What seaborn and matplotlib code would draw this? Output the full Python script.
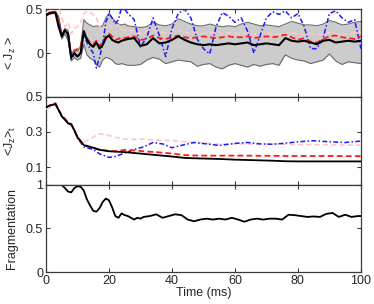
import numpy as np
import pandas as pd
import matplotlib
matplotlib.use("Agg")
import matplotlib.pyplot as plt
import seaborn as sns

# ---------------- data ----------------
t1 = list(range(0, 26)) + list(range(26, 101, 2))
jz_mean = [0.43, 0.45, 0.46, 0.46, 0.30, 0.19, 0.26, 0.22, -0.05, 0.00, -0.04, 0.00, 0.25,
           0.15, 0.10, 0.07, 0.12, 0.05, 0.09, 0.17, 0.20, 0.15, 0.13, 0.12, 0.14, 0.15,
           0.16, 0.17, 0.08, 0.10, 0.17, 0.11, 0.12, 0.15, 0.19, 0.15, 0.12, 0.10, 0.09,
           0.10, 0.09, 0.10, 0.11, 0.10, 0.11, 0.12, 0.09, 0.10, 0.11, 0.10, 0.09, 0.17,
           0.14, 0.13, 0.14, 0.12, 0.10, 0.14, 0.15, 0.12, 0.13, 0.14, 0.13, 0.14]
jz_upper = [0.44, 0.46, 0.47, 0.47, 0.42, 0.22, 0.28, 0.26, -0.02, 0.04, 0.02, 0.08, 0.38,
            0.34, 0.32, 0.30, 0.31, 0.30, 0.31, 0.40, 0.45, 0.40, 0.36, 0.33, 0.32, 0.33,
            0.31, 0.30, 0.29, 0.30, 0.35, 0.32, 0.31, 0.33, 0.39, 0.36, 0.33, 0.31, 0.31,
            0.33, 0.31, 0.30, 0.31, 0.30, 0.33, 0.35, 0.33, 0.31, 0.32, 0.31, 0.30, 0.33,
            0.36, 0.34, 0.32, 0.32, 0.31, 0.33, 0.37, 0.35, 0.32, 0.33, 0.35, 0.36]
jz_lower = [0.42, 0.44, 0.45, 0.45, 0.36, 0.16, 0.22, 0.14, -0.09, -0.05, -0.08, -0.06, 0.10,
            -0.02, -0.06, -0.08, -0.13, -0.16, -0.08, -0.05, -0.06, -0.08, -0.12, -0.13, -0.12, -0.13,
            -0.14, -0.14, -0.13, -0.08, -0.05, -0.07, -0.12, -0.10, -0.08, -0.09, -0.10, -0.15, -0.13,
            -0.12, -0.16, -0.18, -0.14, -0.12, -0.14, -0.16, -0.13, -0.15, -0.13, -0.12, -0.14, -0.02,
            -0.06, -0.08, -0.09, -0.12, -0.10, -0.08, -0.01, -0.09, -0.13, -0.10, -0.11, -0.12]
jz_red = [0.43, 0.46, 0.47, 0.47, 0.38, 0.20, 0.26, 0.22, -0.03, 0.02, 0.05, 0.08, 0.22,
          0.17, 0.12, 0.10, 0.14, 0.08, 0.12, 0.20, 0.22, 0.19, 0.15, 0.16, 0.18, 0.17,
          0.18, 0.19, 0.15, 0.16, 0.20, 0.17, 0.16, 0.18, 0.20, 0.18, 0.17, 0.18, 0.19,
          0.18, 0.17, 0.18, 0.19, 0.18, 0.18, 0.19, 0.17, 0.18, 0.19, 0.18, 0.19, 0.21,
          0.18, 0.15, 0.17, 0.13, 0.12, 0.16, 0.19, 0.20, 0.18, 0.17, 0.16, 0.19]
jz_pink = [0.46, 0.48, 0.50, 0.53, 0.52, 0.40, 0.30, 0.35, 0.22, 0.28, 0.30, 0.35, 0.45,
           0.47, 0.46, 0.44, 0.40, 0.30, 0.25, 0.30, 0.33, 0.28, 0.30, 0.32, 0.27, 0.26,
           0.27, 0.25, 0.22, 0.24, 0.26, 0.24, 0.23, 0.25, 0.26, 0.24, 0.22, 0.23, 0.22,
           0.23, 0.24, 0.22, 0.23, 0.22, 0.23, 0.22, 0.21, 0.22, 0.23, 0.22, 0.21, 0.22,
           0.23, 0.22, 0.21, 0.22, 0.21, 0.22, 0.23, 0.22, 0.21, 0.22, 0.23, 0.24]
jz_blue = [0.43, 0.45, 0.46, 0.46, 0.38, 0.19, 0.25, 0.20, -0.07, -0.02, -0.04, 0.00, 0.22,
           0.12, 0.05, 0.00, -0.17, -0.05, 0.10, 0.35, 0.45, 0.40, 0.33, 0.38, 0.52, 0.50,
           0.45, 0.38, 0.07, 0.18, 0.40, 0.20, -0.04, 0.28, 0.45, 0.50, 0.40, 0.16, 0.05,
           -0.01, 0.30, 0.46, 0.42, 0.35, 0.40, 0.25, 0.00, 0.20, 0.40, 0.47, 0.44, 0.48,
           0.40, 0.45, 0.30, 0.05, 0.05, 0.17, 0.45, 0.48, 0.40, 0.35, 0.38, 0.05]

t2 = [0, 1, 3, 5, 7, 8, 9, 10, 12, 13, 15, 17, 20, 22, 25, 28, 31, 34, 37, 40, 44, 47, 51,
      55, 60, 64, 68, 72, 76, 80, 85, 90, 95, 100]
jt_black = [0.44, 0.45, 0.46, 0.39, 0.35, 0.345, 0.31, 0.27, 0.225, 0.22, 0.21, 0.198, 0.19,
            0.188, 0.185, 0.18, 0.175, 0.17, 0.165, 0.16, 0.152, 0.15, 0.148, 0.146, 0.142,
            0.14, 0.138, 0.136, 0.133, 0.132, 0.132, 0.132, 0.132, 0.132]
jt_red = [0.44, 0.45, 0.465, 0.395, 0.355, 0.345, 0.31, 0.27, 0.225, 0.22, 0.21, 0.2, 0.192,
          0.19, 0.198, 0.195, 0.19, 0.186, 0.182, 0.177, 0.168, 0.166, 0.165, 0.165, 0.165,
          0.165, 0.164, 0.164, 0.163, 0.163, 0.163, 0.163, 0.162, 0.162]
jt_blue = [0.44, 0.45, 0.46, 0.39, 0.35, 0.34, 0.31, 0.265, 0.215, 0.21, 0.2, 0.175, 0.155,
           0.16, 0.18, 0.2, 0.215, 0.24, 0.232, 0.21, 0.228, 0.24, 0.232, 0.223, 0.235, 0.24,
           0.232, 0.23, 0.236, 0.244, 0.25, 0.244, 0.24, 0.248]
jt_pink = [0.43, 0.44, 0.455, 0.40, 0.36, 0.34, 0.30, 0.27, 0.24, 0.25, 0.27, 0.29, 0.28,
           0.27, 0.26, 0.258, 0.26, 0.255, 0.252, 0.25, 0.245, 0.24, 0.235, 0.23, 0.232,
           0.232, 0.23, 0.232, 0.23, 0.228, 0.228, 0.226, 0.225, 0.225]

t3 = [0, 2, 4] + list(range(5, 32)) + list(range(33, 100, 2)) + [100]
frag = [1.0, 1.0, 1.0,
        0.995, 0.96, 0.92, 0.91, 0.96, 0.98, 0.975, 0.93, 0.83, 0.76, 0.70, 0.69, 0.73,
        0.80, 0.84, 0.82, 0.74, 0.64, 0.62, 0.67, 0.65, 0.64, 0.62, 0.60, 0.62, 0.61, 0.63,
        0.64, 0.66, 0.62, 0.64, 0.66, 0.65, 0.60, 0.58, 0.60, 0.61, 0.60, 0.61, 0.60, 0.62,
        0.60, 0.575, 0.60, 0.61, 0.60, 0.61, 0.61, 0.60, 0.655, 0.65, 0.64, 0.63, 0.635,
        0.63, 0.665, 0.675, 0.63, 0.655, 0.63, 0.64,
        0.64]

xticks = [0, 20, 40, 60, 80, 100]

# ---------------- style ----------------
sns.set_theme(style="ticks")
plt.rcParams['font.family'] = ['Liberation Sans', 'DejaVu Sans']
plt.rcParams['mathtext.fontset'] = 'custom'
plt.rcParams['mathtext.rm'] = 'Liberation Sans'
plt.rcParams['mathtext.it'] = 'Liberation Sans'
FS = 9

fig = plt.figure(figsize=(3.74, 3.04), dpi=100)
L, W = 0.123, 0.842
ax1 = fig.add_axes([L, 0.681, W, 0.289])
ax2 = fig.add_axes([L, 0.393, W, 0.288])
ax3 = fig.add_axes([L, 0.105, W, 0.288])

pink = (1.0, 0.78, 0.78)
red = (1.0, 0.1, 0.1)
blue = (0.1, 0.1, 1.0)
dash = (0, (3.2, 1.8))
dashdot = (0, (3.2, 1.5, 1.0, 1.5))

# panel 1
ax1.fill_between(t1, jz_lower, jz_upper, color=(0.8, 0.8, 0.8), lw=0, zorder=1)
sns.lineplot(x=t1, y=jz_upper, ax=ax1, color=(0.42, 0.42, 0.42), lw=0.8, zorder=2)
sns.lineplot(x=t1, y=jz_lower, ax=ax1, color=(0.42, 0.42, 0.42), lw=0.8, zorder=2)
sns.lineplot(x=t1, y=jz_pink, ax=ax1, color=pink, lw=1.2, linestyle=dash, zorder=3)
sns.lineplot(x=t1, y=jz_blue, ax=ax1, color=blue, lw=1.1, linestyle=dashdot, zorder=4)
sns.lineplot(x=t1, y=jz_red, ax=ax1, color=red, lw=1.3, linestyle=dash, zorder=5)
sns.lineplot(x=t1, y=jz_mean, ax=ax1, color='black', lw=1.5, zorder=6)
ax1.set_ylim(-0.5, 0.5)
ax1.set_yticks([0, 0.5])
ax1.set_yticklabels(['0', '0.5'])
ax1.set_ylabel('< J$_z$ >', fontsize=FS, labelpad=2)

# panel 2
sns.lineplot(x=t2, y=jt_pink, ax=ax2, color=pink, lw=1.2, linestyle=dash, zorder=3)
sns.lineplot(x=t2, y=jt_blue, ax=ax2, color=blue, lw=1.1, linestyle=dashdot, zorder=4)
sns.lineplot(x=t2, y=jt_red, ax=ax2, color=red, lw=1.3, linestyle=dash, zorder=5)
sns.lineplot(x=t2, y=jt_black, ax=ax2, color='black', lw=1.3, zorder=6)
ax2.set_ylim(0, 0.5)
ax2.set_yticks([0.1, 0.3, 0.5])
ax2.set_yticklabels(['0.1', '0.3', '0.5'])
ax2.set_ylabel('<J$_z$>$_t$', fontsize=FS, labelpad=2)

# panel 3
sns.lineplot(x=t3, y=frag, ax=ax3, color='black', lw=1.3)
ax3.set_ylim(0, 1)
ax3.set_yticks([0, 0.5, 1])
ax3.set_yticklabels(['0', '0.5', '1'])
ax3.set_ylabel('Fragmentation', fontsize=FS, labelpad=4)
ax3.set_xlabel('Time (ms)', fontsize=FS, labelpad=0)

for ax in (ax1, ax2, ax3):
    ax.set_xlim(0, 100)
    ax.set_xticks(xticks)
    ax.set_facecolor('white')
    for s in ax.spines.values():
        s.set_visible(True)
        s.set_color('#3a3a3a')
        s.set_linewidth(0.9)
    ax.tick_params(direction='in', length=3, width=0.8, color='#3a3a3a',
                   top=True, right=True, labelsize=FS, pad=2)
    ax.grid(False)
    ax.yaxis.set_label_coords(-0.09, 0.5)
for ax in (ax1, ax2):
    ax.set_xticklabels([])
ax3.set_xticklabels([str(v) for v in xticks])

fig.savefig('out.png', dpi=100)
